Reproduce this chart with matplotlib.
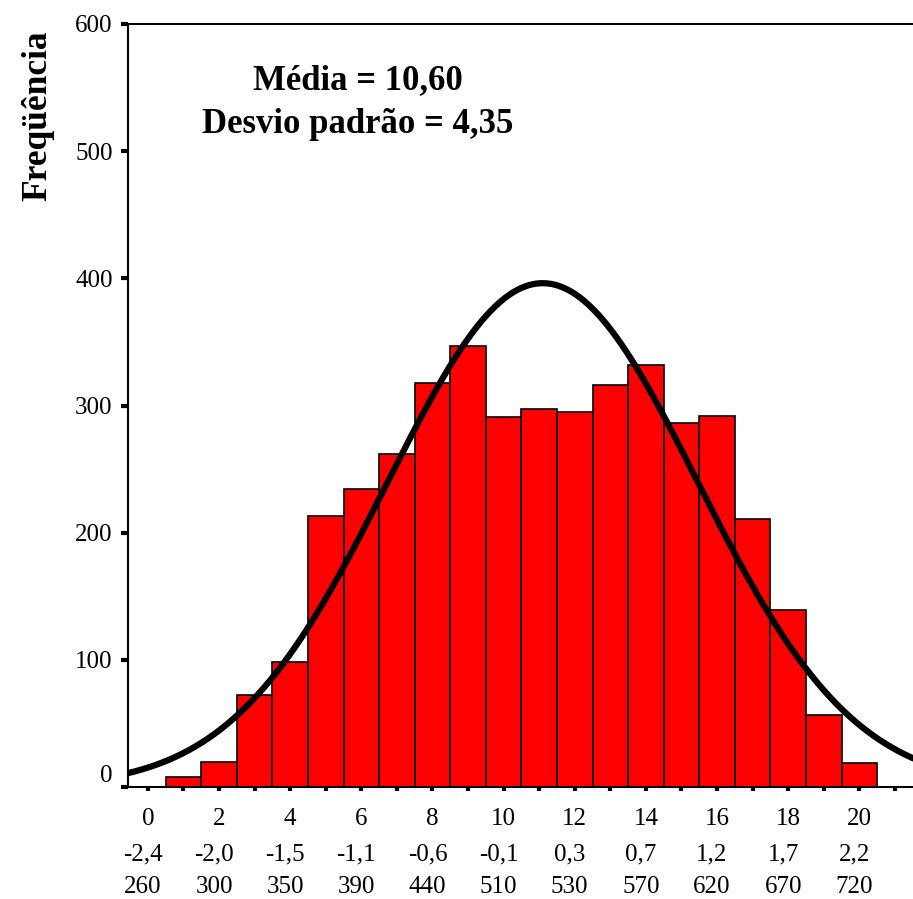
import numpy as np
import matplotlib
matplotlib.use('Agg')
import matplotlib.pyplot as plt
import matplotlib.transforms as mtransforms

plt.rcParams['font.family'] = ['Liberation Serif', 'DejaVu Serif']

# Score bins (bar centres) and their frequencies
scores = list(range(1, 21))
freq = [8, 20, 72, 98, 213, 234, 262, 318, 347, 291,
        297, 295, 316, 332, 286, 292, 211, 139, 57, 19]

# Summary statistics for the fitted normal curve
media = 10.60
desvio = 4.35
n_casos = 4320
bin_offset = 0.5  # bars are drawn half a bin to the right of the score scale

# Three rows of x labels: raw score, z-score, scaled score
tick_pos = list(range(0, 21, 2))
row_score = ['0', '2', '4', '6', '8', '10', '12', '14', '16', '18', '20']
row_z = ['-2,4', '-2,0', '-1,5', '-1,1', '-0,6', '-0,1', '0,3', '0,7', '1,2', '1,7', '2,2']
row_scaled = ['260', '300', '350', '390', '440', '510', '530', '570', '620', '670', '720']

W, H = 913, 899
fig = plt.figure(figsize=(W / 100, H / 100), dpi=100)
ax = fig.add_axes([128 / W, 1 - 787 / H, 1 - 128 / W, (787 - 24) / H])

ax.bar(scores, freq, width=1.0, color='#ff0000', edgecolor='black', linewidth=1.2, zorder=2)

xs = np.linspace(-0.6, 21.6, 500)
curva = n_casos / (desvio * np.sqrt(2 * np.pi)) * np.exp(-0.5 * ((xs - bin_offset - media) / desvio) ** 2)
ax.plot(xs, curva, color='black', linewidth=4.5, zorder=3, solid_capstyle='butt')

ax.set_xlim(-0.56, 21.51)
ax.set_ylim(0, 600)

for side in ['left', 'top', 'bottom']:
    ax.spines[side].set_linewidth(1.5)
ax.spines['right'].set_visible(False)

ax.set_yticks(range(0, 601, 100))
ax.tick_params(axis='y', direction='out', length=5, width=3, labelsize=18, pad=6)
ax.get_yticklabels()[0].set_verticalalignment('bottom')

ax.set_xticks(range(0, 22))
ax.set_xticklabels([])
ax.tick_params(axis='x', direction='out', length=3, width=3)

xtrans = ax.get_xaxis_transform()
shift = mtransforms.ScaledTranslation(-5 / 100, 0, fig.dpi_scale_trans)
for x, a, b, c in zip(tick_pos, row_score, row_z, row_scaled):
    ax.text(x, (787 - 825) / 763, a, transform=xtrans, ha='center', va='baseline', fontsize=18)
    ax.text(x, (787 - 860) / 763, b, transform=xtrans + shift, ha='center', va='baseline', fontsize=18)
    ax.text(x, (787 - 893) / 763, c, transform=xtrans + shift, ha='center', va='baseline', fontsize=18)

fig.text(38 / W, 1 - 116 / H, 'Freqüência', rotation=90, ha='center', va='center',
         fontsize=25.5, fontweight='bold')

ax.text(5.9, 538, 'Média = 10,60\nDesvio padrão = 4,35', ha='center', va='center',
        fontsize=25, fontweight='bold', linespacing=1.45, multialignment='center')

plt.savefig('out.png', dpi=100)
